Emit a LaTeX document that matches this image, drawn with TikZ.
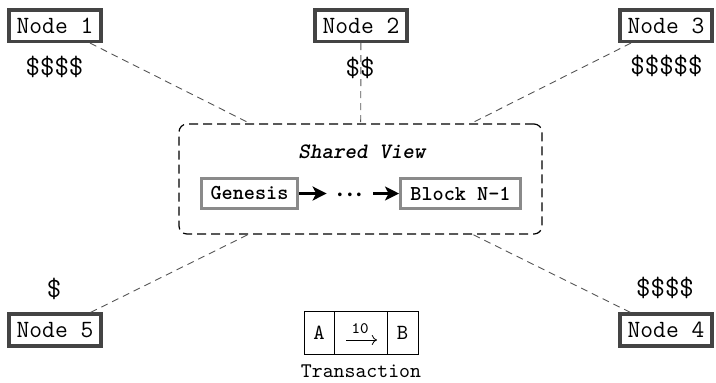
\documentclass[tikz,border=0pt]{standalone}
\usetikzlibrary{arrows.meta}
\definecolor{nodeborder}{HTML}{444444}
\definecolor{blockborder}{HTML}{8A8A8A}
\definecolor{linkgray}{HTML}{555555}
\begin{document}
\begin{tikzpicture}[x=0.5pt,y=-0.5pt,
  peer/.style={draw=nodeborder, line width=1.8pt, fill=white, inner sep=0pt,
    minimum width=45.8pt, minimum height=15.8pt, font=\fontsize{12.4}{14}\selectfont\ttfamily},
  money/.style={inner sep=0pt, font=\fontsize{14}{16}\selectfont\ttfamily},
  link/.style={draw=linkgray, line width=0.45pt, dash pattern=on 3.5pt off 2.5pt},
  blockbox/.style={draw=blockborder, line width=1.5pt, inner sep=0pt,
    minimum height=15pt, font=\fontsize{10.6}{12}\selectfont\ttfamily\bfseries},
  view/.style={draw=black, line width=0.6pt, dash pattern=on 4.5pt off 2.5pt,
    rounded corners=4pt, minimum width=181.5pt, minimum height=55pt, inner sep=0pt},
  viewtitle/.style={inner sep=0pt, font=\fontsize{11}{13}\selectfont\ttfamily\bfseries\itshape},
  cell/.style={draw=black, line width=0.5pt, inner sep=0pt, minimum height=21.5pt,
    font=\fontsize{10.8}{12}\selectfont\ttfamily},
  caption/.style={inner sep=0pt, font=\fontsize{10.4}{12}\selectfont\ttfamily},
  amount/.style={inner sep=0pt, font=\fontsize{8}{9}\selectfont\ttfamily},
  dotsbox/.style={inner sep=0pt, minimum width=23pt, font=\fontsize{16}{18}\selectfont},
  chainarrow/.style={-{Stealth[length=7pt,width=7pt,inset=1.8pt]}, line width=1.5pt},
  payarrow/.style={-{Computer Modern Rightarrow[length=2.6pt,width=5pt]}, line width=0.4pt},
]
\useasboundingbox (0,0) rectangle (716,382);

% shared view
\node[view] (sv) at (360.5,179) {};
\node[viewtitle] (title) at (362,152) {Shared View};
\node[blockbox, minimum width=48pt] (gen) at (249.5,193.5) {Genesis};
\node[blockbox, minimum width=60pt] (blk) at (460.5,193.5) {Block N-1};
\node[dotsbox, anchor=base] (chaindots) at (350,203) {$\cdotp\!\cdotp\!\cdotp$};
\draw[chainarrow] (gen.east) -- (gen.east -| chaindots.west);
\draw[chainarrow] (chaindots.east |- blk.west) -- (blk.west);

% peers
\node[peer] (n1) at (55,25.5) {Node 1};
\node[peer] (n2) at (361,25.5) {Node 2};
\node[peer] (n3) at (666,25.5) {Node 3};
\node[peer] (n4) at (666,330) {Node 4};
\node[peer] (n5) at (55,330) {Node 5};

\node[money] (m1) at (54.5,67) {\$\$\$\$};
\node[money] (m2) at (360,68) {\$\$};
\node[money] (m3) at (666.5,66) {\$\$\$\$\$};
\node[money] (m4) at (665,288) {\$\$\$\$};
\node[money] (m5) at (54,289) {\$};

% links
\draw[link] (n1) -- (sv);
\draw[link] (n2) -- (sv);
\draw[link] (n3) -- (sv);
\draw[link] (n4) -- (sv);
\draw[link] (n5) -- (sv);

% transaction
\node[cell, minimum width=15pt] (ta) at (319,332.5) {A};
\node[cell, minimum width=26.5pt] (tm) at (360.5,332.5) {};
\node[cell, minimum width=15.5pt] (tb) at (402.5,332.5) {B};
\coordinate (payS) at (346,340);
\coordinate (payE) at (377,340);
\draw[payarrow] (payS) -- (payE);
\node[amount] (amt) at (360,329) {10};
\node[caption] (tcap) at (361,371) {Transaction};
\end{tikzpicture}
\end{document}
